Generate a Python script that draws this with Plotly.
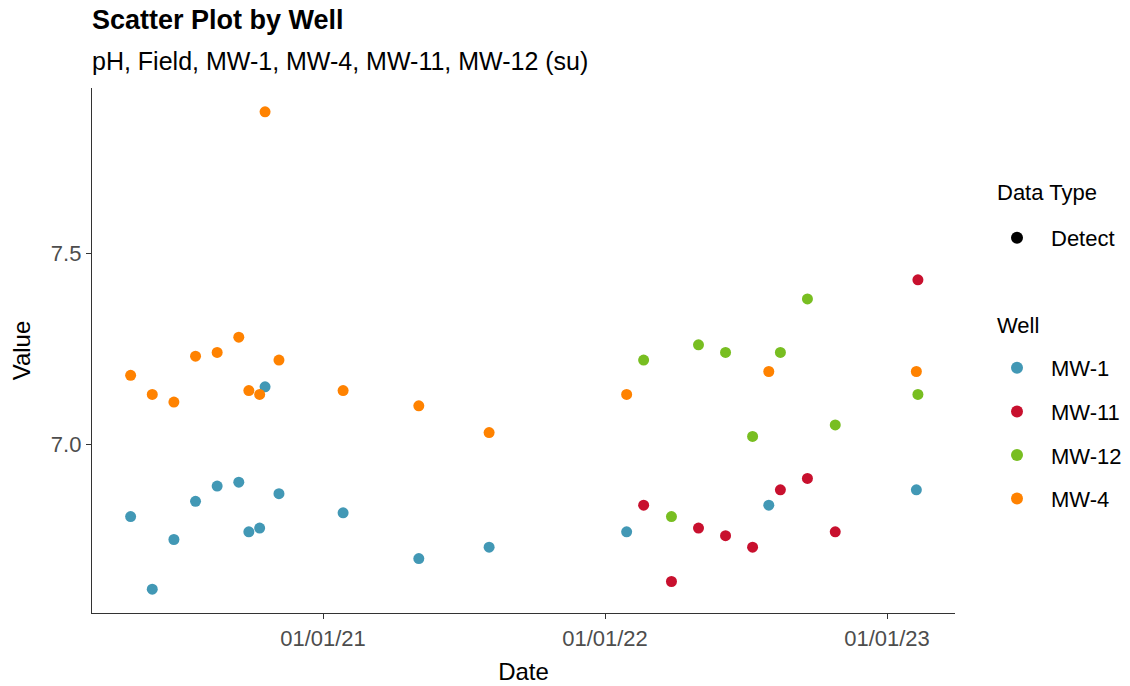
import plotly.graph_objects as go

# ---- data ----
dates_mw1_mw4 = ["2020-04-27", "2020-05-25", "2020-06-22", "2020-07-20", "2020-08-17",
                 "2020-09-14", "2020-09-27", "2020-10-11", "2020-10-18", "2020-11-05",
                 "2021-01-27", "2021-05-05", "2021-08-04", "2022-01-29", "2022-08-01",
                 "2023-02-08"]
mw1_values = [6.81, 6.62, 6.75, 6.85, 6.89, 6.90, 6.77, 6.78, 7.15, 6.87,
              6.82, 6.70, 6.73, 6.77, 6.84, 6.88]
mw4_values = [7.18, 7.13, 7.11, 7.23, 7.24, 7.28, 7.14, 7.13, 7.87, 7.22,
              7.14, 7.10, 7.03, 7.13, 7.19, 7.19]

dates_mw11_mw12 = ["2022-02-20", "2022-03-28", "2022-05-02", "2022-06-06", "2022-07-11",
                   "2022-08-16", "2022-09-20", "2022-10-26", "2023-02-10"]
mw11_values = [6.84, 6.64, 6.78, 6.76, 6.73, 6.88, 6.91, 6.77, 7.43]
mw12_values = [7.22, 6.81, 7.26, 7.24, 7.02, 7.24, 7.38, 7.05, 7.13]

wells = ["MW-1", "MW-11", "MW-12", "MW-4"]
well_colors = {"MW-1": "#4298B5", "MW-11": "#C8102E", "MW-12": "#78BE21", "MW-4": "#FF8200"}
well_dates = {"MW-1": dates_mw1_mw4, "MW-11": dates_mw11_mw12,
              "MW-12": dates_mw11_mw12, "MW-4": dates_mw1_mw4}
well_values = {"MW-1": mw1_values, "MW-11": mw11_values,
               "MW-12": mw12_values, "MW-4": mw4_values}

x_ticks = ["2021-01-01", "2022-01-01", "2023-01-01"]
x_tick_labels = ["01/01/21", "01/01/22", "01/01/23"]
y_ticks = [7.0, 7.5]
y_tick_labels = ["7.0", "7.5"]

FONT = "Liberation Sans, Arial, sans-serif"
W, H = 1122, 678
L, R, T, B = 84, 175, 80, 73
PW, PH = W - L - R, H - T - B


def px_to_paper_x(fx):
    return (fx - L) / PW


def px_to_paper_y(fy):
    return 1 - (fy - T) / PH


fig = go.Figure()

# Data type legend (dummy entry)
fig.add_trace(go.Scatter(
    x=[None], y=[None], mode="markers", name="Detect",
    marker=dict(color="black", size=9), legend="legend",
    showlegend=True, hoverinfo="skip"))

for w in wells:
    fig.add_trace(go.Scatter(
        x=well_dates[w], y=well_values[w], mode="markers", name=w,
        marker=dict(color=well_colors[w], size=11, line=dict(width=0)),
        legend="legend2", legendgroup=w))

annotations = [
    dict(text="<b>Scatter Plot by Well</b>", x=px_to_paper_x(82), y=px_to_paper_y(12),
         xref="paper", yref="paper", xanchor="left", yanchor="middle", showarrow=False,
         font=dict(size=27, family=FONT, color="black")),
    dict(text="pH, Field, MW-1, MW-4, MW-11, MW-12 (su)", x=px_to_paper_x(82), y=px_to_paper_y(53),
         xref="paper", yref="paper", xanchor="left", yanchor="middle", showarrow=False,
         font=dict(size=25, family=FONT, color="black")),
    dict(text="Data Type", x=px_to_paper_x(987), y=px_to_paper_y(184),
         xref="paper", yref="paper", xanchor="left", yanchor="middle", showarrow=False,
         font=dict(size=22, family=FONT, color="black")),
    dict(text="Well", x=px_to_paper_x(987), y=px_to_paper_y(317),
         xref="paper", yref="paper", xanchor="left", yanchor="middle", showarrow=False,
         font=dict(size=22, family=FONT, color="black")),
]

fig.update_layout(
    width=W, height=H,
    paper_bgcolor="white", plot_bgcolor="white",
    margin=dict(l=L, r=R, t=T, b=B),
    font=dict(family=FONT, color="black"),
    annotations=annotations,
    xaxis=dict(
        type="date", automargin=False,
        range=["2020-03-08", "2023-03-30"],
        tickvals=x_ticks, ticktext=x_tick_labels,
        showgrid=False, zeroline=False,
        showline=True, linecolor="#333333", linewidth=1.3,
        ticks="outside", ticklen=5, tickcolor="#333333", tickwidth=1.3,
        ticklabelstandoff=0,
        tickfont=dict(size=22, color="#4d4d4d", family=FONT),
        title=dict(text="Date", font=dict(size=24, color="black", family=FONT), standoff=13)),
    yaxis=dict(
        automargin=False,
        range=[6.5575, 7.9325],
        tickvals=y_ticks, ticktext=y_tick_labels,
        showgrid=False, zeroline=False,
        showline=True, linecolor="#333333", linewidth=1.3,
        ticks="outside", ticklen=5, tickcolor="#333333", tickwidth=1.3,
        tickfont=dict(size=22, color="#4d4d4d", family=FONT),
        title=dict(text="Value", font=dict(size=24, color="black", family=FONT), standoff=14)),
    legend=dict(
        font=dict(size=22, family=FONT, color="black"),
        xref="container", yref="container",
        x=975 / W, y=1 - 209 / H, xanchor="left", yanchor="top",
        itemwidth=58,
        bgcolor="rgba(0,0,0,0)", itemsizing="constant"),
    legend2=dict(
        font=dict(size=22, family=FONT, color="black"),
        xref="container", yref="container",
        x=975 / W, y=1 - 339 / H, xanchor="left", yanchor="top",
        traceorder="grouped", tracegroupgap=12, itemwidth=58,
        bgcolor="rgba(0,0,0,0)", itemsizing="constant"),
)

fig.write_html("out.html")
